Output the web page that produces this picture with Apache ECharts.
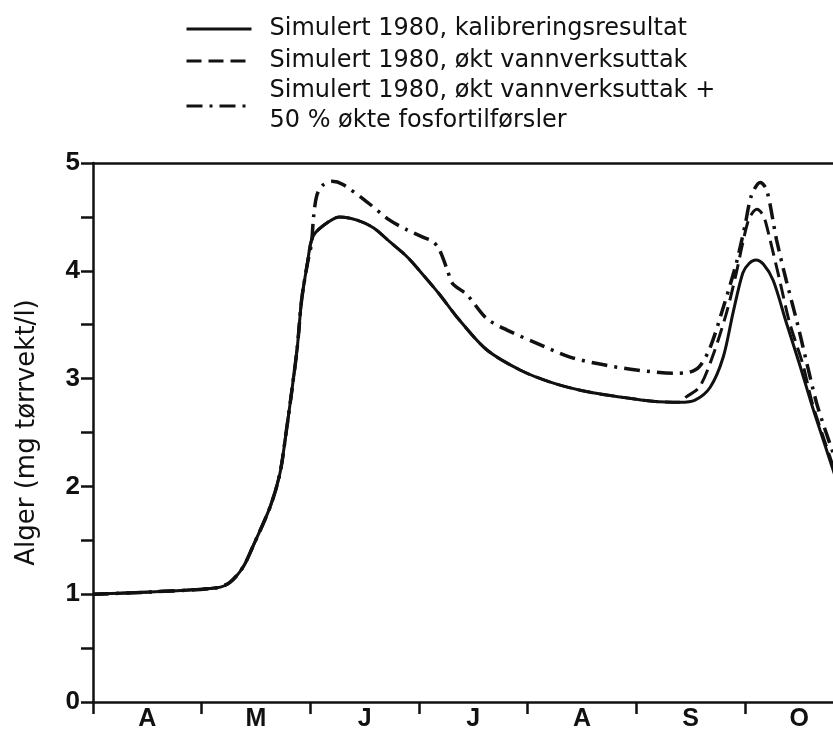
<!DOCTYPE html>
<html>
<head>
<meta charset="utf-8">
<script src="https://cdn.jsdelivr.net/npm/echarts@6/dist/echarts.min.js"></script>
<style>
html,body{margin:0;padding:0;background:#fff;}
#c{width:833px;height:740px;}
</style>
</head>
<body>
<div id="c"></div>
<script>
// x in months since 1 April (0 = 1 Apr, 1 = 1 May, ...), y in mg tørrvekt/l
var monthLabels = ['A', 'M', 'J', 'J', 'A', 'S', 'O'];
var monthTicks = [0, 1, 2, 3, 4, 5, 6];
var monthLabelPos = [0.5, 1.5, 2.5, 3.5, 4.5, 5.5, 6.5];
var yTicks = [0, 0.5, 1, 1.5, 2, 2.5, 3, 3.5, 4, 4.5, 5];
var yLabels = [0, 1, 2, 3, 4, 5];

var seriesNames = [
  'Simulert 1980, kalibreringsresultat',
  'Simulert 1980, økt vannverksuttak',
  'Simulert 1980, økt vannverksuttak +\n50 % økte fosfortilførsler'
];

var solidData = [
  [0, 1.00], [0.52, 1.02], [1.14, 1.06], [1.26, 1.11], [1.38, 1.25], [1.47, 1.44],
  [1.63, 1.81], [1.72, 2.12], [1.78, 2.52], [1.83, 2.89], [1.88, 3.29], [1.92, 3.73],
  [1.97, 4.05], [2.02, 4.31], [2.12, 4.42], [2.27, 4.50], [2.43, 4.47], [2.58, 4.40],
  [2.73, 4.27], [2.89, 4.13], [3.04, 3.96], [3.19, 3.78], [3.35, 3.57], [3.62, 3.27],
  [3.93, 3.08], [4.23, 2.96], [4.54, 2.88], [4.85, 2.83], [5.15, 2.79], [5.40, 2.78],
  [5.54, 2.80], [5.68, 2.92], [5.80, 3.20], [5.89, 3.61], [5.98, 3.98], [6.04, 4.07],
  [6.10, 4.10], [6.17, 4.06], [6.26, 3.91], [6.38, 3.52], [6.50, 3.14], [6.62, 2.74],
  [6.75, 2.34], [6.87, 1.97]
];

var dashedData = [
  [0, 1.00], [0.52, 1.02], [1.14, 1.06], [1.26, 1.11], [1.38, 1.25], [1.47, 1.44],
  [1.63, 1.81], [1.72, 2.12], [1.78, 2.52], [1.83, 2.89], [1.88, 3.29], [1.92, 3.73],
  [1.97, 4.05], [2.02, 4.31], [2.12, 4.42], [2.27, 4.50], [2.43, 4.47], [2.58, 4.40],
  [2.73, 4.27], [2.89, 4.13], [3.04, 3.96], [3.19, 3.78], [3.35, 3.57], [3.62, 3.27],
  [3.93, 3.08], [4.23, 2.96], [4.54, 2.88], [4.85, 2.83], [5.15, 2.79], [5.40, 2.78],
  [5.46, 2.83], [5.58, 2.92], [5.70, 3.20], [5.83, 3.61], [5.92, 3.98], [5.98, 4.26],
  [6.04, 4.49], [6.11, 4.57], [6.17, 4.51], [6.23, 4.29], [6.32, 3.91], [6.41, 3.52],
  [6.53, 3.14], [6.62, 2.77], [6.75, 2.37], [6.87, 2.01]
];

var dashDotData = [
  [0, 1.00], [0.52, 1.02], [1.14, 1.06], [1.26, 1.11], [1.38, 1.25], [1.47, 1.44],
  [1.63, 1.81], [1.72, 2.12], [1.78, 2.52], [1.83, 2.89], [1.88, 3.29], [1.92, 3.73],
  [1.97, 4.05], [2.01, 4.25], [2.03, 4.50], [2.06, 4.70], [2.11, 4.79], [2.20, 4.83],
  [2.30, 4.80], [2.52, 4.64], [2.73, 4.47], [2.89, 4.38], [3.04, 4.31], [3.13, 4.27],
  [3.19, 4.19], [3.26, 4.01], [3.31, 3.88], [3.44, 3.78], [3.62, 3.56], [3.81, 3.45],
  [4.08, 3.33], [4.39, 3.20], [4.69, 3.13], [5.00, 3.08], [5.34, 3.05], [5.49, 3.06],
  [5.58, 3.11], [5.68, 3.29], [5.80, 3.66], [5.92, 4.07], [6.00, 4.42], [6.06, 4.70],
  [6.14, 4.82], [6.20, 4.75], [6.29, 4.29], [6.38, 3.91], [6.48, 3.52], [6.57, 3.14],
  [6.66, 2.77], [6.78, 2.40], [6.90, 2.06]
];

var ink = '#111';
var legendFont = {fontFamily: 'DejaVu Sans', fontSize: 24, color: ink, lineHeight: 28, padding: [0, 0, 0, 13]};
var legendBase = {left: 185, padding: 0, itemWidth: 65, itemHeight: 14, selectedMode: false,
  itemStyle: {opacity: 0, borderWidth: 0}, lineStyle: {width: 3, opacity: 1}, textStyle: legendFont};

var chart = echarts.init(document.getElementById('c'), null, {renderer: 'canvas'});
chart.setOption({
  backgroundColor: '#fff',
  animation: false,
  legend: [
    Object.assign({}, legendBase, {data: [seriesNames[0]], top: 15}),
    Object.assign({}, legendBase, {data: [seriesNames[1]], top: 47}),
    Object.assign({}, legendBase, {
      data: [{name: seriesNames[2], textStyle: {padding: [30, 0, 0, 13], lineHeight: 30}}],
      top: 61
    })
  ],
  grid: {left: 93, right: 0, top: 163, bottom: 38, containLabel: false},
  xAxis: [
    {
      type: 'value', min: 0, max: 6.81, position: 'bottom',
      axisLine: {show: true, onZero: false, lineStyle: {color: ink, width: 2.5}},
      axisTick: {show: true, customValues: monthTicks, length: 12, lineStyle: {color: ink, width: 2.5}},
      axisLabel: {
        show: true, customValues: monthLabelPos, margin: 5,
        fontFamily: 'Liberation Sans', fontWeight: 'bold', fontSize: 25, color: ink,
        formatter: function (v) { return monthLabels[Math.floor(v)] || ''; }
      },
      splitLine: {show: false}
    },
    {
      type: 'value', min: 0, max: 6.81, position: 'top',
      axisLine: {show: true, onZero: false, lineStyle: {color: ink, width: 2.5}},
      axisTick: {show: false}, axisLabel: {show: false}, splitLine: {show: false}
    }
  ],
  yAxis: {
    type: 'value', min: 0, max: 5,
    name: 'Alger (mg tørrvekt/l)', nameLocation: 'middle', nameGap: 53,
    nameTextStyle: {fontFamily: 'DejaVu Sans', fontSize: 26, color: ink},
    axisLine: {show: true, lineStyle: {color: ink, width: 2.5}},
    axisTick: {show: true, customValues: yTicks, length: 12, lineStyle: {color: ink, width: 2.5}},
    axisLabel: {
      show: true, customValues: yLabels, margin: 13,
      fontFamily: 'Liberation Sans', fontWeight: 'bold', fontSize: 26, color: ink
    },
    splitLine: {show: false}
  },
  series: [
    {
      name: seriesNames[0], type: 'line', data: solidData, xAxisIndex: 0,
      showSymbol: false, symbol: 'none', smooth: 0.3,
      lineStyle: {color: ink, width: 3, type: 'solid'}, itemStyle: {color: ink}, z: 3
    },
    {
      name: seriesNames[1], type: 'line', data: dashedData, xAxisIndex: 0,
      showSymbol: false, symbol: 'none', smooth: 0.3,
      lineStyle: {color: ink, width: 3, type: [15, 7]}, itemStyle: {color: ink}, z: 2
    },
    {
      name: seriesNames[2], type: 'line', data: dashDotData, xAxisIndex: 0,
      showSymbol: false, symbol: 'none', smooth: 0.3,
      lineStyle: {color: ink, width: 3.5, type: [16, 7, 3, 7]}, itemStyle: {color: ink}, z: 2
    }
  ]
});
</script>
</body>
</html>
